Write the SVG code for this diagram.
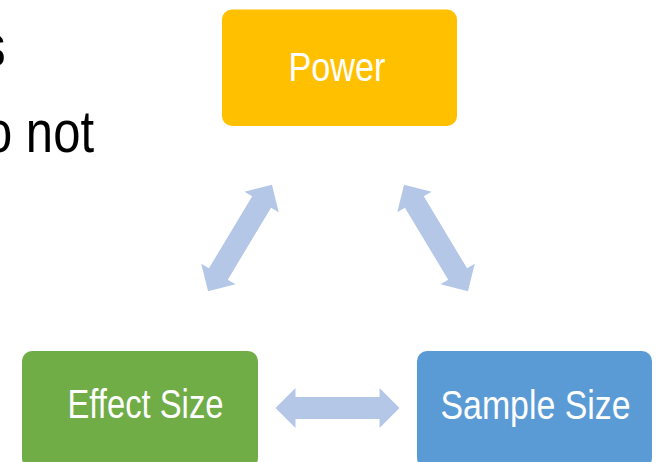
<svg xmlns="http://www.w3.org/2000/svg" width="661" height="462" viewBox="0 0 661 462">
  <style>
    .body { font-family: "Liberation Sans Narrow", "Liberation Sans", Arial, sans-serif; font-size: 60px; fill: #000000; }
    .label { font-family: "Liberation Sans Narrow", "Liberation Sans", Arial, sans-serif; font-size: 41px; fill: #FFFFFF; }
    .arrow { fill: #B4C7E7; }
  </style>
  <defs>
    <!-- double-headed block arrow, centred on the origin, pointing along x -->
    <polygon id="dblArrow" points="-62,0 -42,-20 -42,-11 42,-11 42,-20 62,0 42,20 42,11 -42,11 -42,20"/>
  </defs>
  <rect width="661" height="462" fill="#FFFFFF"/>

  <!-- slide body text running off the left edge -->
  <text class="body" x="-19" y="66" textLength="24.6" lengthAdjust="spacingAndGlyphs">s</text>
  <text class="body" x="-15" y="152" textLength="109" lengthAdjust="spacingAndGlyphs">o not</text>

  <g id="connectors">
    <use href="#dblArrow" class="arrow" transform="translate(240,238) rotate(-59)"/>
    <use href="#dblArrow" class="arrow" transform="translate(436,238) rotate(59)"/>
    <use href="#dblArrow" class="arrow" transform="translate(337.5,408)"/>
  </g>

  <g id="power">
    <rect x="222" y="9.5" width="235" height="116.5" rx="10" fill="#FFC000"/>
    <text class="label" x="288.5" y="81" textLength="97" lengthAdjust="spacingAndGlyphs">Power</text>
  </g>

  <g id="effect-size">
    <rect x="22" y="351" width="236" height="117" rx="10" fill="#70AD47"/>
    <text class="label" x="67.5" y="418" textLength="156" lengthAdjust="spacingAndGlyphs">Effect Size</text>
  </g>

  <g id="sample-size">
    <rect x="417" y="351" width="235" height="117" rx="10" fill="#5B9BD5"/>
    <text class="label" x="440.5" y="419" textLength="190" lengthAdjust="spacingAndGlyphs">Sample Size</text>
  </g>
</svg>
